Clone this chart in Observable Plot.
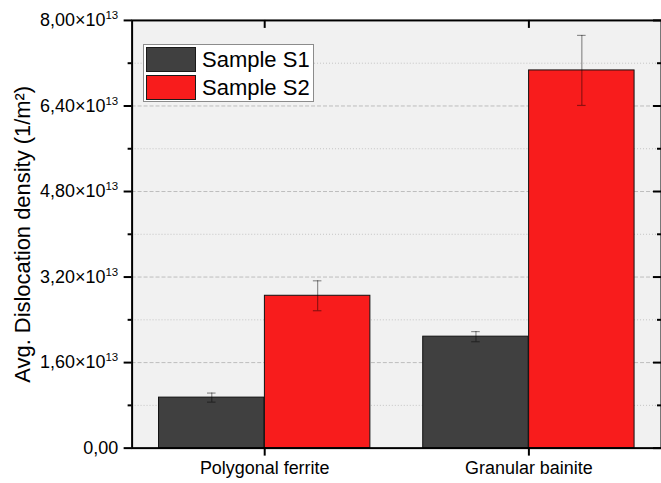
<!DOCTYPE html>
<html><head><meta charset="utf-8">
<script src="https://cdn.jsdelivr.net/npm/d3@7"></script>
<script src="https://cdn.jsdelivr.net/npm/@observablehq/plot@0.6"></script>
<style>
html,body{margin:0;padding:0;background:#fff;overflow:hidden;}
#wrap{position:relative;width:661px;height:483px;overflow:hidden;font-family:"Liberation Sans",Arial,sans-serif;}
#wrap svg{display:block;}
#legend{position:absolute;left:143px;top:44px;width:169px;height:56px;border:1px solid #8c8c8c;background:#fff;}
.sw{position:absolute;left:2px;width:48px;height:23px;border:1px solid #1a1a1a;}
.lt{position:absolute;left:58px;font-size:22px;line-height:25px;color:#000;white-space:nowrap;}
</style></head><body><div id="wrap"></div>
<script>
const categories = ["Polygonal ferrite", "Granular bainite"];
const seriesNames = ["Sample S1", "Sample S2"];
const s1Values = [0.945e13, 2.085e13];
const s1Errors = [0.085e13, 0.095e13];
const s2Values = [2.85e13, 7.065e13];
const s2Errors = [0.28e13, 0.655e13];
const majorTicks = [0, 1.6e13, 3.2e13, 4.8e13, 6.4e13, 8.0e13];
const minorTicks = [0.8e13, 2.4e13, 4.0e13, 5.6e13, 7.2e13];
const colors = ["#404040", "#f81c1c"];
const yLabel = "Avg. Dislocation density (1/m²)";

const W = 663, H = 483, ML = 132, MR = 0, MT = 20, MB = 34;
const plotW = W - ML - MR, plotH = H - MT - MB;
const paddingInner = 0.2, paddingOuter = 0.1;
const step = plotW / (categories.length - paddingInner + 2 * paddingOuter);
const bw = step * (1 - paddingInner);
const half = bw / 2, quarter = bw / 4, capHalf = 4.5;

const s1Rows = categories.map((c, i) => ({cat: c, series: seriesNames[0], value: s1Values[i], err: s1Errors[i]}));
const s2Rows = categories.map((c, i) => ({cat: c, series: seriesNames[1], value: s2Values[i], err: s2Errors[i]}));

const fmt = d => d === 0 ? "0,00" : (d / 1e13).toFixed(2).replace(".", ",") + "×10";
const errStyle = {stroke: "#000", strokeOpacity: 0.42, strokeWidth: 1.2};

const chart = Plot.plot({
  width: W, height: H,
  marginLeft: ML, marginRight: MR, marginTop: MT, marginBottom: MB,
  style: {fontFamily: "Liberation Sans, Arial, sans-serif", fontSize: "18px", color: "#000", background: "transparent"},
  x: {domain: categories, paddingInner, paddingOuter},
  y: {domain: [0, 8e13]},
  marks: [
    Plot.frame({fill: "#f1f1f1"}),
    Plot.ruleY(minorTicks, {stroke: "#c4c4c4", strokeDasharray: "1,2"}),
    Plot.ruleY(majorTicks.slice(1, -1), {stroke: "#bdbdbd", strokeDasharray: "4,2"}),
    Plot.barY(s1Rows, {x: "cat", y: "value", fill: colors[0], stroke: "#111", strokeWidth: 1, insetRight: half}),
    Plot.barY(s2Rows, {x: "cat", y: "value", fill: colors[1], stroke: "#111", strokeWidth: 1, insetLeft: half}),
    Plot.ruleX(s1Rows, {x: "cat", y1: d => d.value - d.err, y2: d => d.value + d.err, dx: -quarter, ...errStyle}),
    Plot.ruleX(s2Rows, {x: "cat", y1: d => d.value - d.err, y2: d => d.value + d.err, dx: quarter, ...errStyle}),
    Plot.tickY(s1Rows, {x: "cat", y: d => d.value + d.err, insetLeft: quarter - capHalf, insetRight: bw - quarter - capHalf, ...errStyle}),
    Plot.tickY(s1Rows, {x: "cat", y: d => d.value - d.err, insetLeft: quarter - capHalf, insetRight: bw - quarter - capHalf, ...errStyle}),
    Plot.tickY(s2Rows, {x: "cat", y: d => d.value + d.err, insetLeft: bw - quarter - capHalf, insetRight: quarter - capHalf, ...errStyle}),
    Plot.tickY(s2Rows, {x: "cat", y: d => d.value - d.err, insetLeft: bw - quarter - capHalf, insetRight: quarter - capHalf, ...errStyle}),
    Plot.axisY({ticks: majorTicks, tickSize: 8, tickPadding: 6, tickFormat: fmt, strokeWidth: 2, fontSize: 18, label: null}),
    Plot.tickY(minorTicks, {y: d => d, insetLeft: -4, insetRight: plotW, stroke: "#000", strokeWidth: 2}),
    Plot.tickY(majorTicks, {y: d => d, insetLeft: plotW - 8, stroke: "#000", strokeWidth: 2}),
    Plot.tickY(minorTicks, {y: d => d, insetLeft: plotW - 4, stroke: "#000", strokeWidth: 2}),
    Plot.axisX({tickSize: 8, tickPadding: 5, strokeWidth: 2, fontSize: 18, label: null}),
    Plot.ruleX(categories, {x: d => d, insetBottom: plotH - 8, stroke: "#000", strokeWidth: 2}),
    Plot.frame({stroke: "#000", strokeWidth: 2}),
    Plot.text([yLabel], {text: d => d, frameAnchor: "left", textAnchor: "middle", rotate: -90, dx: -109, fontSize: 22, fill: "#000"})
  ]
});

d3.select(chart).selectAll("text").each(function () {
  const t = this.textContent;
  if (t.endsWith("×10")) {
    const sel = d3.select(this);
    sel.text(null);
    sel.append("tspan").text(t);
    sel.append("tspan").attr("dy", "-0.6em").attr("font-size", "11.5px").text("13");
  }
});

const wrap = document.getElementById("wrap");
wrap.appendChild(chart);

const legend = document.createElement("div");
legend.id = "legend";
seriesNames.forEach((name, i) => {
  const sw = document.createElement("div");
  sw.className = "sw";
  sw.style.top = (2 + i * 28) + "px";
  sw.style.background = colors[i];
  legend.appendChild(sw);
  const lt = document.createElement("div");
  lt.className = "lt";
  lt.style.top = (2 + i * 28) + "px";
  lt.textContent = name;
  legend.appendChild(lt);
});
wrap.appendChild(legend);
</script></body></html>
